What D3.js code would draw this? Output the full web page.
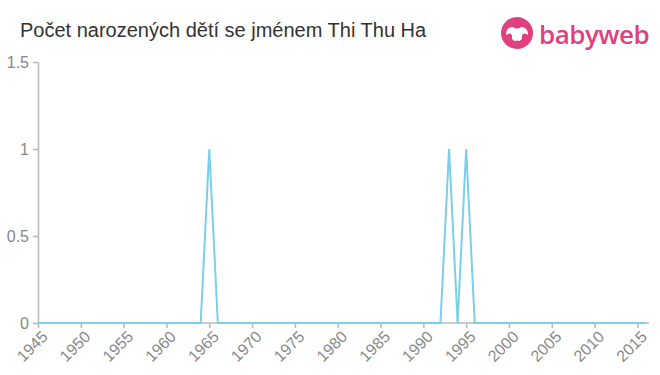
<!DOCTYPE html>
<html>
<head>
<meta charset="utf-8">
<script src="https://cdn.jsdelivr.net/npm/d3@7"></script>
<style>
  body { margin: 0; background: #fff; }
  svg { display: block; font-family: "Liberation Sans", Arial, sans-serif; }
  .axis path, .axis line { stroke: #bbb; stroke-width: 1.6; }
  .axis text { fill: #888; font-size: 16px; font-family: "Liberation Sans", Arial, sans-serif; }
</style>
</head>
<body>
<svg width="660" height="375"></svg>
<script>
var title = "Počet narozených dětí se jménem Thi Thu Ha";

// roky a počty narozených
var years = d3.range(1945, 2017);
var peakYears = [1965, 1993, 1995];
var counts = years.map(function(y) { return peakYears.indexOf(y) >= 0 ? 1 : 0; });

var xTicks = d3.range(1945, 2016, 5);
var yTicks = [0, 0.5, 1, 1.5];

var svg = d3.select("svg"),
    margin = {top: 62, right: 14, bottom: 52, left: 38},
    width = 660 - margin.left - margin.right,
    height = 375 - margin.top - margin.bottom,
    g = svg.append("g").attr("transform", "translate(" + margin.left + "," + margin.top + ")");

var x = d3.scaleLinear().domain([1945, 2016]).range([0, 608]),
    y = d3.scaleLinear().domain([0, 1.5]).range([height, 0]);

// title
svg.append("text")
    .attr("x", 20)
    .attr("y", 37)
    .attr("fill", "#333")
    .style("font-size", "20px")
    .text(title);

// logo
var logo = svg.append("g").attr("transform", "translate(517,33)");
logo.append("circle").attr("r", 16).attr("fill", "#e0407f");
logo.append("path")
    .attr("d", "M-11,2 Q-11,-6 -4,-6 Q0,-3 4,-6 Q11,-6 11,2 Q7,-1 5,2 L5,6 Q0,11 -5,6 L-5,2 Q-7,-1 -11,2 Z")
    .attr("fill", "#fff");
logo.append("circle").attr("cx", 0).attr("cy", 11).attr("r", 3.5).attr("fill", "#e0407f");
svg.append("text")
    .attr("x", 539)
    .attr("y", 44)
    .attr("fill", "#e0407f")
    .style("font-size", "26px")
    .style("font-family", "'Open Sans', sans-serif")
    .style("font-weight", "600")
    .style("letter-spacing", "-0.5px")
    .text("babyweb");

g.append("g")
    .attr("class", "axis")
    .call(d3.axisLeft(y).tickValues(yTicks).tickSize(5).tickSizeOuter(0).tickFormat(d3.format("")))
    .call(function(a) { a.selectAll("text").attr("x", -9); });

var xAxis = g.append("g")
    .attr("class", "axis")
    .attr("transform", "translate(0," + height + ")")
    .call(d3.axisBottom(x).tickValues(xTicks).tickSize(5).tickSizeOuter(0).tickFormat(d3.format("d")));

xAxis.select(".domain").attr("d", "M0,0H611");
xAxis.selectAll("text")
    .attr("text-anchor", "end")
    .attr("y", 8)
    .attr("dx", "-0.2em")
    .attr("dy", "0.6em")
    .attr("transform", "rotate(-45)");

var line = d3.line()
    .x(function(d, i) { return x(years[i]); })
    .y(function(d) { return y(d); });

g.append("path")
    .datum(counts)
    .attr("fill", "none")
    .attr("stroke", "#7ccfe9")
    .attr("stroke-width", 2)
    .attr("d", line);
</script>
</body>
</html>
